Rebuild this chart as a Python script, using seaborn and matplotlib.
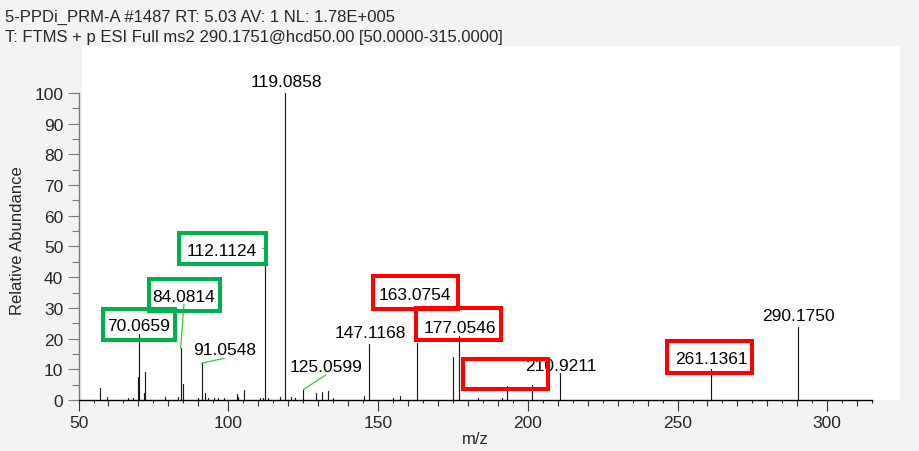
import numpy as np
import pandas as pd
import matplotlib
matplotlib.use("Agg")
import matplotlib.pyplot as plt
from matplotlib.patches import Rectangle
from matplotlib.ticker import MultipleLocator, FixedLocator
import seaborn as sns

# ---------------- data ----------------
header_line1 = "5-PPDi_PRM-A #1487 RT: 5.03 AV: 1 NL: 1.78E+005"
header_line2 = "T: FTMS + p ESI Full ms2 290.1751@hcd50.00 [50.0000-315.0000]"

peak_mz = [57.2, 59.4, 66.6, 68.3, 69.8, 70.0659, 71.7, 72.04, 78.9, 83.3,
           84.0814, 85.0, 90.0, 91.0548, 92.2, 93.3, 95.3, 96.7, 98.4, 102.8,
           103.3, 105.2, 110.5, 111.7, 112.1124, 113.4, 117.3, 119.0858, 121.1, 122.3,
           125.0599, 129.2, 131.3, 133.2, 135.1, 145.4, 147.1168, 155.1, 157.2, 163.0754,
           175.1, 177.0546, 183.3, 191.3, 193.2, 201.3, 210.9211, 261.1361, 290.1750]
peak_int = [3.9, 0.9, 0.8, 0.8, 7.4, 21.5, 2.3, 9.2, 0.9, 0.9,
            16.8, 5.2, 0.8, 12.0, 2.3, 0.7, 0.8, 0.8, 0.5, 2.1,
            1.0, 3.3, 0.7, 0.8, 49.5, 0.7, 1.1, 100.0, 1.1, 0.6,
            3.4, 2.2, 2.7, 3.0, 0.8, 1.4, 18.4, 0.6, 1.3, 18.6,
            13.9, 21.0, 0.6, 0.8, 4.7, 4.9, 8.7, 10.1, 23.7]

label_mz = [70.0659, 84.0814, 91.0548, 112.1124, 119.0858, 125.0599,
            147.1168, 163.0754, 177.0546, 210.9211, 261.1361, 290.1750]

# label text anchor positions (annotation layout, data units)
label_x = [70.1, 85.2, 98.7, 97.9, 119.3, 132.6, 147.3, 162.3, 177.4, 211.0, 261.2, 290.4]
label_y = [24.2, 33.6, 16.4, 48.6, 103.6, 11.0, 22.0, 34.5, 23.7, 11.2, 13.4, 27.5]

# leader lines: (peak mz) -> label end point
leader_from_mz = [84.0814, 91.0548, 125.0599]
leader_to = [(85.2, 31.3), (98.7, 13.6), (132.6, 8.2)]

# highlight boxes (x, y, w, h) in data units
green_boxes = [(83.44, 44.40, 29.25, 10.10), (73.62, 28.89, 23.71, 10.62), (58.16, 19.45, 23.94, 10.29)]
red_boxes = [(148.31, 29.74, 28.38, 10.65), (162.77, 19.64, 28.38, 10.43),
             (178.36, 3.68, 28.38, 9.77), (246.48, 8.79, 28.48, 10.43)]

# ---------------- style ----------------
sns.set_theme(style="white")
plt.rcParams["font.family"] = ["Liberation Sans", "DejaVu Sans"]

W, H = 920, 452
fig = plt.figure(figsize=(W / 100, H / 100), dpi=100, facecolor="#f3f3f3")

# white plotting panel (behind axes)
fig.patches.append(Rectangle((82 / W, 1 - 401 / H), 818 / W, 354 / H, transform=fig.transFigure,
                             facecolor="white", edgecolor="none", zorder=-10))

ax = fig.add_axes([78.55 / W, 1 - 401 / H, (872.2 - 78.55) / W, 354 / H])
ax.set_facecolor("none")
ax.set_zorder(2)

# stems through seaborn
pid = np.arange(len(peak_mz))
df = pd.DataFrame({
    "mz": np.repeat(peak_mz, 2),
    "intensity": np.ravel(np.column_stack([np.zeros(len(peak_int)), peak_int])),
    "peak": np.repeat(pid, 2),
})
sns.lineplot(data=df, x="mz", y="intensity", units="peak", estimator=None, sort=False,
             color="#1a1a1a", linewidth=0.85, ax=ax, legend=False)

ax.set_xlim(50, 315)
ax.set_ylim(0, 115.3)

# spines
for s in ["top", "right"]:
    ax.spines[s].set_visible(False)
ax.spines["left"].set_bounds(0, 100)
ax.spines["left"].set_color("#7a7a7a")
ax.spines["left"].set_linewidth(1.0)
ax.spines["bottom"].set_color("#000000")
ax.spines["bottom"].set_linewidth(1.0)

ax.xaxis.set_major_locator(FixedLocator([50, 100, 150, 200, 250, 300]))
ax.xaxis.set_minor_locator(FixedLocator([v for v in range(55, 316, 10)]))
ax.set_yticks(range(0, 101, 10))
ax.yaxis.set_minor_locator(FixedLocator([v for v in range(5, 100, 10)]))

ax.tick_params(axis="x", which="major", direction="out", length=8, width=0.8, color="#333333",
               labelsize=12.5, pad=2.5, bottom=True)
ax.tick_params(axis="x", which="minor", direction="out", length=2.2, width=0.8, color="#333333", bottom=True)
ax.tick_params(axis="y", which="major", direction="out", length=8, width=0.8, color="#7a7a7a",
               labelsize=12.5, pad=3, left=True)
ax.tick_params(axis="y", which="minor", direction="out", length=5, width=0.8, color="#7a7a7a", left=True)

# 10-unit mid ticks on x
sec = ax.secondary_xaxis("bottom")
sec.spines["bottom"].set_visible(False)
sec.set_xticks([v for v in range(60, 316, 10) if v % 50 != 0])
sec.tick_params(axis="x", direction="out", length=4.3, width=0.8, color="#333333", labelbottom=False)

ax.set_xlabel("")
ax.set_ylabel("")

# peak labels
for mz, lx, ly in zip(label_mz, label_x, label_y):
    ax.text(lx, ly, f"{mz:.4f}", ha="center", va="center", fontsize=12.5, color="black", zorder=5,
            clip_on=False)

# leaders
lookup = dict(zip(peak_mz, peak_int))
for mz, (tx, ty) in zip(leader_from_mz, leader_to):
    ax.plot([mz, tx], [lookup[mz], ty], color="#33cc33", lw=0.9, zorder=4, clip_on=False)
ax.plot([111.3, 112.1124], [lookup[112.1124], lookup[112.1124]], color="#33cc33", lw=0.9, zorder=4)

# highlight boxes
for (x, y, w, h) in green_boxes:
    ax.add_patch(Rectangle((x, y), w, h, fill=False, edgecolor="#00b050", lw=2.9, zorder=6, clip_on=False))
for (x, y, w, h) in red_boxes:
    ax.add_patch(Rectangle((x, y), w, h, fill=False, edgecolor="#ff0000", lw=2.9, zorder=6, clip_on=False))

# titles / axis titles
fig.text(5 / W, 1 - 17 / H, header_line1, ha="left", va="center", fontsize=12)
fig.text(5 / W, 1 - 37.5 / H, header_line2, ha="left", va="center", fontsize=12)
fig.text(18 / W, 1 - 241 / H, "Relative Abundance", rotation=90, ha="center", va="center", fontsize=12)
fig.text(475 / W, 1 - 440 / H, "m/z", ha="center", va="center", fontsize=12)

fig.savefig("out.png", dpi=100, facecolor=fig.get_facecolor())
